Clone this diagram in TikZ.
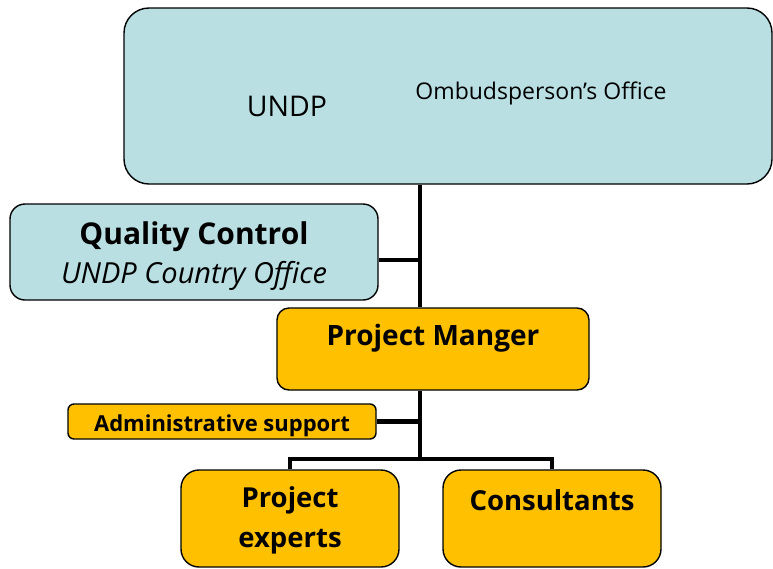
\documentclass[tikz,border=0pt]{standalone}
\usepackage{fontspec}
\setmainfont{Open Sans}
\usetikzlibrary{calc}
\definecolor{boxblue}{RGB}{185,223,227}
\definecolor{boxgold}{RGB}{255,192,0}
\tikzset{
  box/.style={draw, line width=1.4pt, rectangle, inner sep=0pt},
  bluebox/.style={box, fill=boxblue},
  goldbox/.style={box, fill=boxgold},
  conn/.style={line width=4.5pt}
}
\begin{document}
\begin{tikzpicture}[x=1pt,y=-1pt]
    \useasboundingbox (0,0) rectangle (773,568);
    % kotak-kotak
    \node[bluebox, rounded corners=25pt, minimum width=648pt, minimum height=176pt] (undp) at (448,96) {};
    \node[bluebox, rounded corners=15pt, minimum width=368pt, minimum height=96pt] (qc) at (194,252) {};
    \node[goldbox, rounded corners=12pt, minimum width=312pt, minimum height=82pt] (pm) at (433,349) {};
    \node[goldbox, rounded corners=6pt, minimum width=308pt, minimum height=35pt] (adm) at (222,421.5) {};
    \node[goldbox, rounded corners=18pt, minimum width=218pt, minimum height=97pt] (pe) at (290,518.5) {};
    \node[goldbox, rounded corners=18pt, minimum width=218pt, minimum height=97pt] (cons) at (552,518.5) {};

    % teks
    \node[font=\fontsize{28.5}{32}\selectfont] (undpt) at (287,106) {UNDP};
    \node[font=\fontsize{23}{26}\selectfont] (ombt) at (541,93) {Ombudsperson’s Office};
    \node[font=\bfseries\fontsize{30}{34}\selectfont] (qct) at (194,237) {Quality Control};
    \node[font=\itshape\fontsize{29}{32}\selectfont] (qcs) at (194,276) {UNDP Country Office};
    \node[font=\bfseries\fontsize{28}{32}\selectfont] (pmt) at (433,338) {Project Manger};
    \node[font=\bfseries\fontsize{22}{26}\selectfont] (admt) at (222,426) {Administrative support};
    \node[font=\bfseries\fontsize{27.5}{40}\selectfont, align=center] (pet) at (290,520) {Project\\experts};
    \node[font=\bfseries\fontsize{27.5}{32}\selectfont] (const) at (552,500) {Consultants};

    % garis penghubung
    \coordinate (spine) at (420,0);
    \coordinate (bar) at (420,459);
    \draw[conn] (undp.south -| spine) -- (pm.north -| spine);
    \draw[conn] ($(qc.east)+(0,8)$) -- ($(qc.east -| spine)+(0,8)$);
    \draw[conn] (pm.south -| spine) -- (bar);
    \draw[conn] (adm.east) -- (adm.east -| spine);
    \draw[conn] (pe.north) |- (bar) -| (cons.north);
\end{tikzpicture}
\end{document}
